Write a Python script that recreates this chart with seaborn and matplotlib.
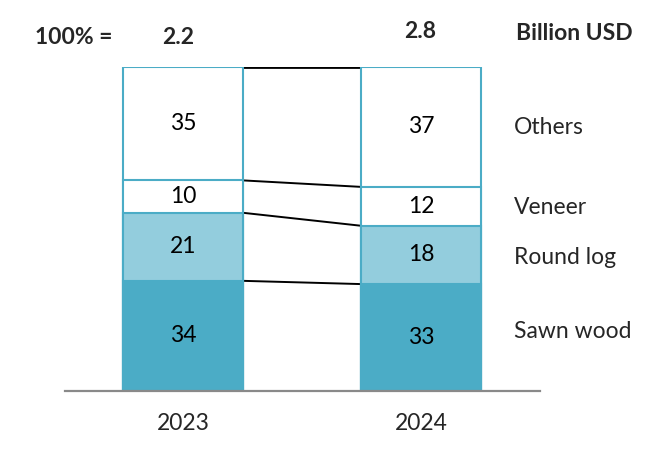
import matplotlib
matplotlib.use("Agg")
import matplotlib.pyplot as plt
import seaborn as sns
import pandas as pd
import numpy as np

sns.set_style("white")
plt.rcParams['font.family'] = ['Lato', 'DejaVu Sans']

# data
years = ["2023", "2024"]
totals = ["2.2", "2.8"]
segments = ["Sawn wood", "Round log", "Veneer", "Others"]
sawn_wood = [34, 33]
round_log = [21, 18]
veneer = [10, 12]
others = [35, 37]

dark = "#4BACC6"
light = "#93CDDD"
colors = [dark, light, "white", "white"]

values = np.array([sawn_wood, round_log, veneer, others])
cum = values.cumsum(axis=0)

W, H = 670, 451
fig = plt.figure(figsize=(W / 100, H / 100), dpi=100)
ax = fig.add_axes([65 / W, (H - 391) / H, (540 - 65) / W, 324 / H])

# draw cumulative bars from the top layer down so they overlap
for k in range(len(segments) - 1, -1, -1):
    df = pd.DataFrame({"year": years, "value": cum[k]})
    sns.barplot(data=df, x="year", y="value", color=colors[k], width=0.504,
                edgecolor=dark, linewidth=1.5, saturation=1, ax=ax, zorder=2)

# connector lines between the bars
half = 0.504 / 2
for k in range(len(segments) - 1):
    ax.plot([0 + half, 1 - half], [cum[k][0], cum[k][1]], color="black", lw=1.4, zorder=1,
            solid_capstyle="butt")
ax.plot([0 + half, 1 - half], [100, 100], color="black", lw=2, zorder=1, solid_capstyle="butt")

fs = 16.5

# numbers inside the bars
for k in range(len(segments)):
    for i in range(len(years)):
        mid = cum[k][i] - values[k][i] / 2
        ax.text(i, mid, str(values[k][i]), ha="center", va="center", fontsize=fs, color="black")

ax.set_xlim(-0.496, 1.5)
ax.set_ylim(0, 100)
ax.set_xlabel("")
ax.set_ylabel("")
ax.set_yticks([])
ax.tick_params(axis="x", length=0, pad=16, labelsize=fs)
for s in ["top", "left", "right"]:
    ax.spines[s].set_visible(False)
ax.spines["bottom"].set_color("#898989")
ax.spines["bottom"].set_linewidth(1.6)
ax.spines["bottom"].set_zorder(5)

# segment labels on the right
label_y = [332, 257, 208, 128]
for name, y in zip(segments, label_y):
    fig.text(514 / W, 1 - y / H, name, ha="left", va="center", fontsize=fs)

# header
fig.text(35 / W, 1 - 38 / H, "100% =", ha="left", va="center", fontsize=fs, fontweight="bold")
fig.text(178 / W, 1 - 38 / H, totals[0], ha="center", va="center", fontsize=fs, fontweight="bold")
fig.text(420 / W, 1 - 32 / H, totals[1], ha="center", va="center", fontsize=fs, fontweight="bold")
fig.text(516 / W, 1 - 33 / H, "Billion USD", ha="left", va="center", fontsize=fs, fontweight="bold")

fig.savefig("out.png", dpi=100, facecolor="white")
